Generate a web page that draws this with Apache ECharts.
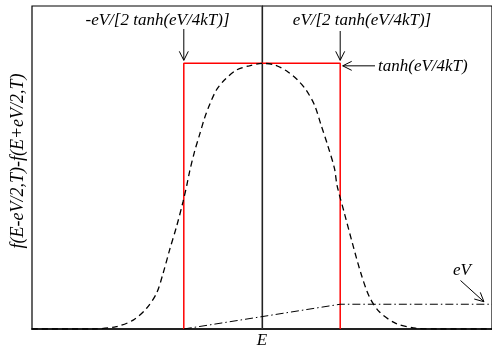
<!DOCTYPE html>
<html>
<head>
<meta charset="utf-8">
<script src="https://cdn.jsdelivr.net/npm/echarts@6/dist/echarts.min.js"></script>
<style>
html,body{margin:0;padding:0;background:#fff;}
#chart{width:492px;height:349px;}
</style>
</head>
<body>
<div id="chart"></div>
<script>
// ---- data ----
const xRange = [-6, 6];
const yRange = [0, 1.2];
const bellE = [-6, -4.40, -3.80, -3.36, -3.01, -2.75, -2.58, -2.41, -2.23, -2.06, -1.96, -1.89, -1.76, -1.63, -1.50, -1.37, -1.19, -0.98, -0.67, -0.33, 0, 0.33, 0.67, 0.93, 1.15, 1.37, 1.54, 1.71, 1.89, 1.96, 2.15, 2.36, 2.58, 2.80, 3.06, 3.49, 4.01, 4.6, 6];
const bellF = [0, 0, 0.009, 0.033, 0.077, 0.133, 0.207, 0.294, 0.380, 0.473, 0.535, 0.584, 0.659, 0.721, 0.783, 0.832, 0.888, 0.925, 0.962, 0.978, 0.987, 0.981, 0.956, 0.925, 0.888, 0.832, 0.758, 0.684, 0.597, 0.532, 0.430, 0.318, 0.207, 0.120, 0.064, 0.021, 0.003, 0, 0];
const rectHalfWidth = 2.04;   // eV/[2 tanh(eV/4kT)]
const rectHeight = 0.987;     // tanh(eV/4kT)
const eVLevel = 0.092;        // eV
const rectE = [-rectHalfWidth, -rectHalfWidth, rectHalfWidth, rectHalfWidth];
const rectF = [0, rectHeight, rectHeight, 0];
const integE = [-rectHalfWidth, rectHalfWidth, 6];
const integF = [0, eVLevel, eVLevel];
const labels = {
  left: '-eV/[2 tanh(eV/4kT)]',
  right: 'eV/[2 tanh(eV/4kT)]',
  height: 'tanh(eV/4kT)',
  area: 'eV',
  xName: 'E',
  yName: 'f(E-eV/2,T)-f(E+eV/2,T)'
};

const zip = (a, b) => a.map((v, i) => [v, b[i]]);
const FONT = 'Liberation Serif';

const chart = echarts.init(document.getElementById('chart'));
chart.setOption({
  animation: false,
  grid: { left: 32, top: 6, right: -1, bottom: 20, show: true, borderColor: '#000', borderWidth: 1.2, backgroundColor: 'transparent' },
  xAxis: {
    type: 'value', min: xRange[0], max: xRange[1],
    axisLine: { show: true, onZero: false, lineStyle: { color: '#222', width: 2 } },
    axisTick: { show: false }, axisLabel: { show: false }, splitLine: { show: false }
  },
  yAxis: {
    type: 'value', min: yRange[0], max: yRange[1],
    axisLine: { show: true, lineStyle: { color: '#000', width: 1.2 } },
    axisTick: { show: false }, axisLabel: { show: false }, splitLine: { show: false }
  },
  series: [
    { type: 'line', data: [[0, yRange[0]], [0, yRange[1]]], symbol: 'none',
      lineStyle: { color: '#444', width: 1 }, z: 1 },
    { type: 'line', data: zip(rectE, rectF), symbol: 'none',
      lineStyle: { color: '#ff0000', width: 1.5 }, z: 2 },
    { type: 'line', data: zip(bellE, bellF), symbol: 'none', smooth: 0.3,
      lineStyle: { color: '#000', width: 1.3, type: [6, 4] }, z: 3 },
    { type: 'line', data: zip(integE, integF), symbol: 'none',
      lineStyle: { color: '#000', width: 1, type: [8, 3, 1.5, 3] }, z: 3 }
  ]
});

const px = (p) => chart.convertToPixel({ gridIndex: 0 }, p);
const tl = px([-rectHalfWidth, rectHeight]);
const tr = px([rectHalfWidth, rectHeight]);
const evTip = px([5.79, eVLevel]);
const axisC = px([0, 0]);

const lineStyle = { stroke: '#000', lineWidth: 1, fill: null };
function arrow(x1, y1, x2, y2) {
  const ang = Math.atan2(y2 - y1, x2 - x1);
  const L = 9, W = 4.5;
  const bx = x2 - L * Math.cos(ang), by = y2 - L * Math.sin(ang);
  const nx = -Math.sin(ang), ny = Math.cos(ang);
  return [
    { type: 'line', shape: { x1, y1, x2, y2 }, style: lineStyle, silent: true },
    { type: 'polyline', shape: { points: [[bx + nx * W, by + ny * W], [x2, y2], [bx - nx * W, by - ny * W]] }, style: lineStyle, silent: true }
  ];
}
const txt = (t, x, y, align, size, rot) => ({
  type: 'text', x, y, rotation: rot || 0, silent: true,
  style: { text: t, fontFamily: FONT, fontStyle: 'italic', fontSize: size || 17, fill: '#000',
    align: align || 'center', verticalAlign: 'middle' }
});

const els = [
  txt(labels.left, 157.5, 21),
  ...arrow(tl[0], 29, tl[0], tl[1] - 3),
  txt(labels.right, 362, 21),
  ...arrow(tr[0], 31, tr[0], tr[1] - 3),
  txt(labels.height, 378, 67, 'left'),
  ...arrow(375, tr[1] + 2.5, tr[0] + 2.5, tr[1] + 2.5),
  txt(labels.area, 462, 271),
  ...arrow(460.5, 280.5, evTip[0], evTip[1] - 2.5),
  txt(labels.xName, axisC[0], 341),
  txt(labels.yName, 18, 161, 'center', 18, Math.PI / 2)
];
chart.setOption({ graphic: { elements: els } });
</script>
</body>
</html>
